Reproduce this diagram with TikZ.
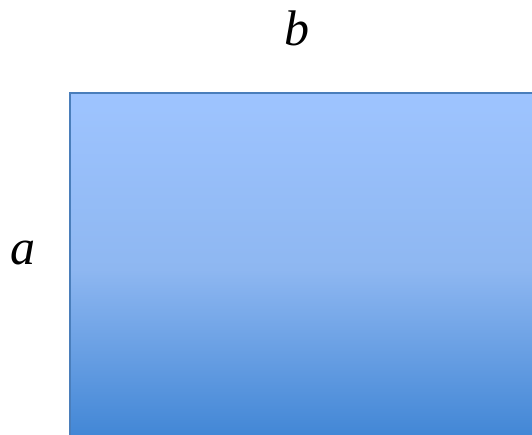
\documentclass[tikz,border=0pt]{standalone}
\usepackage{fontspec}
\setmainfont{Liberation Serif}
\definecolor{topc}{RGB}{158,196,255}
\definecolor{midc}{RGB}{142,183,241}
\definecolor{botc}{RGB}{62,132,212}
\definecolor{edgec}{RGB}{74,126,187}
\pgfdeclareverticalshading{boxshade}{100bp}{color(0bp)=(botc); color(25bp)=(botc); color(50bp)=(midc); color(75bp)=(topc); color(100bp)=(topc)}
\tikzset{
  lbl/.style={font=\fontsize{50}{60}\selectfont\itshape, inner sep=0pt},
  box/.style={draw=edgec, line width=2.5pt, shading=boxshade}
}
\begin{document}
\begin{tikzpicture}[x=1pt,y=-1pt]
\useasboundingbox (0,0) rectangle (532,434);
\clip (0,0) rectangle (532,434);
\path[box] (70,93) rectangle (545,445);
\node[lbl] (b) at (297,28) {b};
\node[lbl] (a) at (23,253) {a};
\end{tikzpicture}
\end{document}
